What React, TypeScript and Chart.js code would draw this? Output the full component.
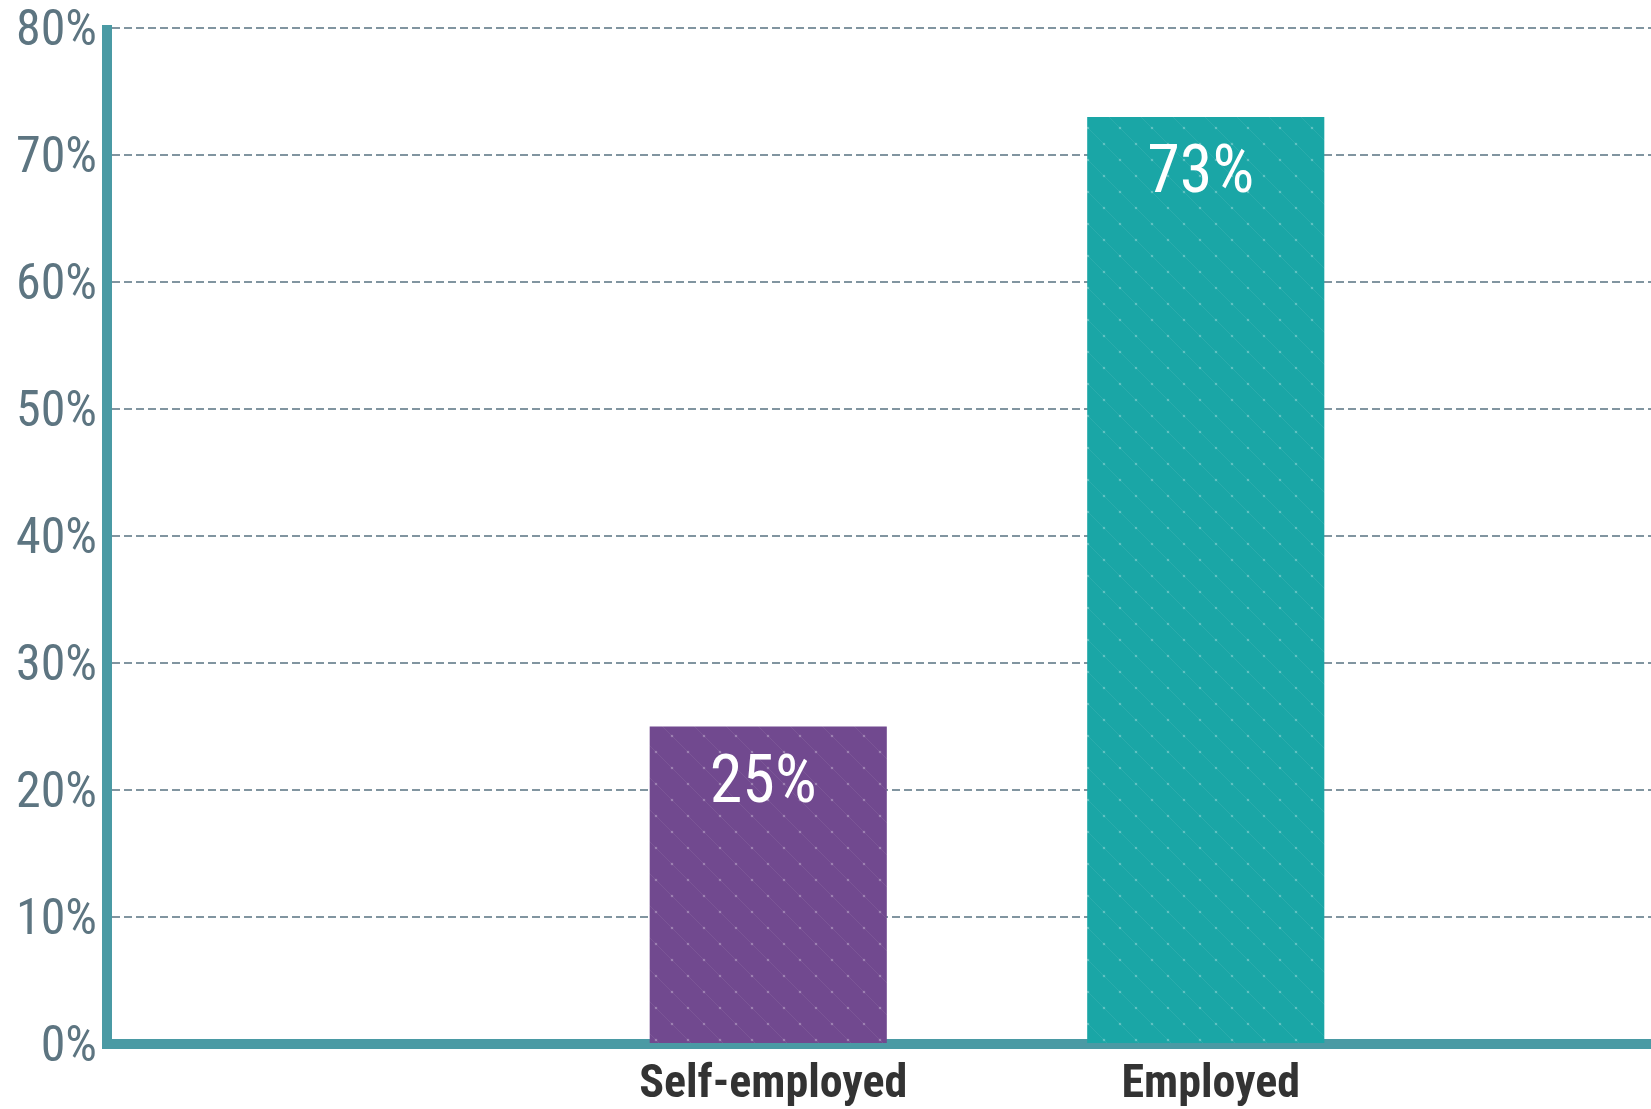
import React, { useEffect, useRef } from "react";
import { Chart, registerables } from "chart.js";

Chart.register(...registerables);

const categories = ["", "Self-employed", "Employed", ""];
const shares = [null, 25, 73, null];
const barBaseColors = ["#71498f", "#71498f", "#1aa6a6", "#1aa6a6"];
const yTicks = { min: 0, max: 80, step: 10 };

const CONDENSED = '"Roboto Condensed", "Liberation Sans Narrow", "DejaVu Sans Condensed", "Arial Narrow", Roboto, sans-serif';
const AXIS_COLOR = "#4a9aa4";

function texture(base: string): CanvasPattern | string {
  const tile = document.createElement("canvas");
  tile.width = 32;
  tile.height = 32;
  const c = tile.getContext("2d");
  if (!c) return base;
  c.fillStyle = base;
  c.fillRect(0, 0, 32, 32);
  c.strokeStyle = "rgba(255,255,255,0.07)";
  c.lineWidth = 1;
  c.beginPath();
  c.moveTo(0, 0);
  c.lineTo(32, 32);
  c.stroke();
  c.fillStyle = "rgba(255,255,255,0.28)";
  c.beginPath();
  c.arc(8, 8, 1.3, 0, Math.PI * 2);
  c.fill();
  c.beginPath();
  c.arc(24, 24, 1.3, 0, Math.PI * 2);
  c.fill();
  const p = c.createPattern(tile, "repeat");
  return p || base;
}

const valueLabels = {
  id: "valueLabels",
  afterDatasetsDraw(chart: any) {
    const ctx = chart.ctx;
    const meta = chart.getDatasetMeta(0);
    ctx.save();
    ctx.fillStyle = "#ffffff";
    ctx.font = `66px ${CONDENSED}`;
    ctx.textAlign = "center";
    ctx.textBaseline = "alphabetic";
    meta.data.forEach((bar: any, i: number) => {
      const v = shares[i];
      if (v == null) return;
      ctx.fillText(`${v}%`, bar.x - 5, bar.y + 75);
    });
    ctx.restore();
  },
};

const yAxisLine = {
  id: "yAxisLine",
  afterDraw(chart: any) {
    const { ctx, chartArea } = chart;
    ctx.save();
    ctx.fillStyle = AXIS_COLOR;
    ctx.fillRect(chartArea.left - 10, chartArea.top - 3, 10, chartArea.bottom - chartArea.top + 8);
    ctx.restore();
  },
};

export default function App() {
  const ref = useRef<HTMLCanvasElement>(null);
  useEffect(() => {
    if (!ref.current) return;
    const colors = barBaseColors.map((c) => texture(c));
    const chart = new Chart(ref.current, {
      type: "bar",
      data: {
        labels: categories,
        datasets: [
          {
            data: shares as any,
            backgroundColor: colors as any,
            barPercentage: 0.542,
            categoryPercentage: 1,
          },
        ],
      },
      options: {
        responsive: false,
        animation: false,
        layout: { padding: { top: 20, left: 0, right: 0, bottom: 0 } },
        plugins: { legend: { display: false }, tooltip: { enabled: false } },
        scales: {
          x: {
            grid: { display: false, drawTicks: false },
            border: { display: true, width: 10, color: AXIS_COLOR },
            ticks: {
              padding: 14,
              labelOffset: 5,
              color: "#333333",
              font: { family: CONDENSED, size: 46, weight: "bold" },
              maxRotation: 0,
              autoSkip: false,
            },
            afterFit(scale: any) {
              scale.height = 1101 - 1036;
              scale.paddingLeft = 0;
              scale.paddingRight = 0;
            },
          },
          y: {
            min: yTicks.min,
            max: yTicks.max,
            grid: { color: "#8195a0", lineWidth: 2, drawTicks: false },
            border: { display: false, dash: [8, 4] },
            ticks: {
              stepSize: yTicks.step,
              padding: 15,
              labelOffset: 4,
              color: "#5d7581",
              font: { family: CONDENSED, size: 50 },
              callback: (v: any) => `${v}%`,
            },
            afterFit(scale: any) {
              scale.width = 104;
              scale.paddingTop = 0;
              scale.paddingBottom = 0;
            },
          },
        },
      },
      plugins: [valueLabels, yAxisLine],
    });
    return () => chart.destroy();
  }, []);
  return (
    <div style={{ position: "absolute", left: 0, top: 0, width: 1651, height: 1109, overflow: "hidden", background: "#fff" }}>
      <canvas
        ref={ref}
        width={1854}
        height={1101}
        style={{ position: "absolute", left: 8, top: 8, display: "block", width: 1854, height: 1101 }}
      />
    </div>
  );
}
